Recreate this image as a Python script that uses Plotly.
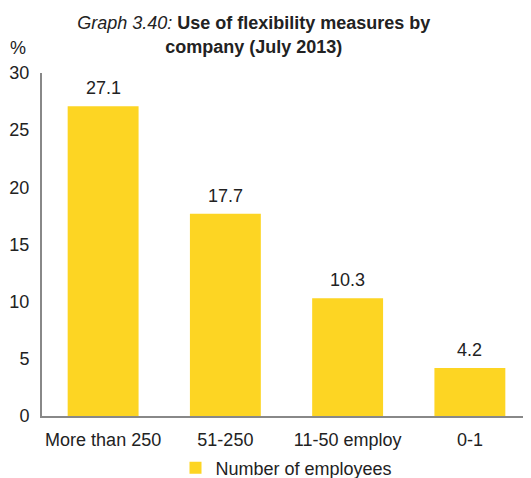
import plotly.graph_objects as go

categorias = ['More than 250', '51-250', '11-50 employ', '0-1']
valores = [27.1, 17.7, 10.3, 4.2]
etiquetas = ['27.1', '17.7', '10.3', '4.2']
ticks_y = [0, 5, 10, 15, 20, 25, 30]

AMARILLO = '#FDD523'
FUENTE = 'Liberation Sans, Arial, sans-serif'
TEXTO = '#222222'

fig = go.Figure()
fig.add_trace(go.Bar(x=categorias, y=valores, name='Number of employees',
                     marker=dict(color=AMARILLO, line=dict(width=0)),
                     showlegend=True))

# etiquetas de valor encima de cada barra
for c, v, t in zip(categorias, valores, etiquetas):
    fig.add_annotation(x=c, y=v, text=t, showarrow=False, yshift=18,
                       font=dict(size=18, color=TEXTO))

# unidad del eje y
fig.add_annotation(x=-0.05, y=1.073, xref='paper', yref='paper', text='%',
                   showarrow=False, xanchor='center', yanchor='middle',
                   font=dict(size=18, color=TEXTO))

# la pagina tiene 8px de margen en el body, se compensa aqui
fig.update_layout(
    width=523, height=470,
    margin=dict(l=34, r=0, t=65, b=62, autoexpand=False),
    paper_bgcolor='white', plot_bgcolor='white',
    font=dict(family=FUENTE, size=18, color=TEXTO),
    title=dict(text='<i>Graph 3.40:</i> <b>Use of flexibility measures by</b><br><b>company (July 2013)</b>',
               x=0.47, xanchor='center', y=0.955, yanchor='middle',
               font=dict(size=18, color=TEXTO)),
    bargap=0.42,
    legend=dict(orientation='h', x=0.5, xanchor='center', y=-0.152, yanchor='middle',
                font=dict(size=18), itemwidth=30),
)
fig.update_yaxes(range=[0, 30], tickvals=ticks_y, showgrid=False, zeroline=False,
                 showline=True, linecolor='#888888', linewidth=2,
                 ticks='', ticklabelstandoff=7, automargin=False)
fig.update_xaxes(showgrid=False, showline=True, linecolor='#888888', linewidth=2,
                 ticks='', ticklabelstandoff=6, automargin=False)

fig.write_html('out.html')
